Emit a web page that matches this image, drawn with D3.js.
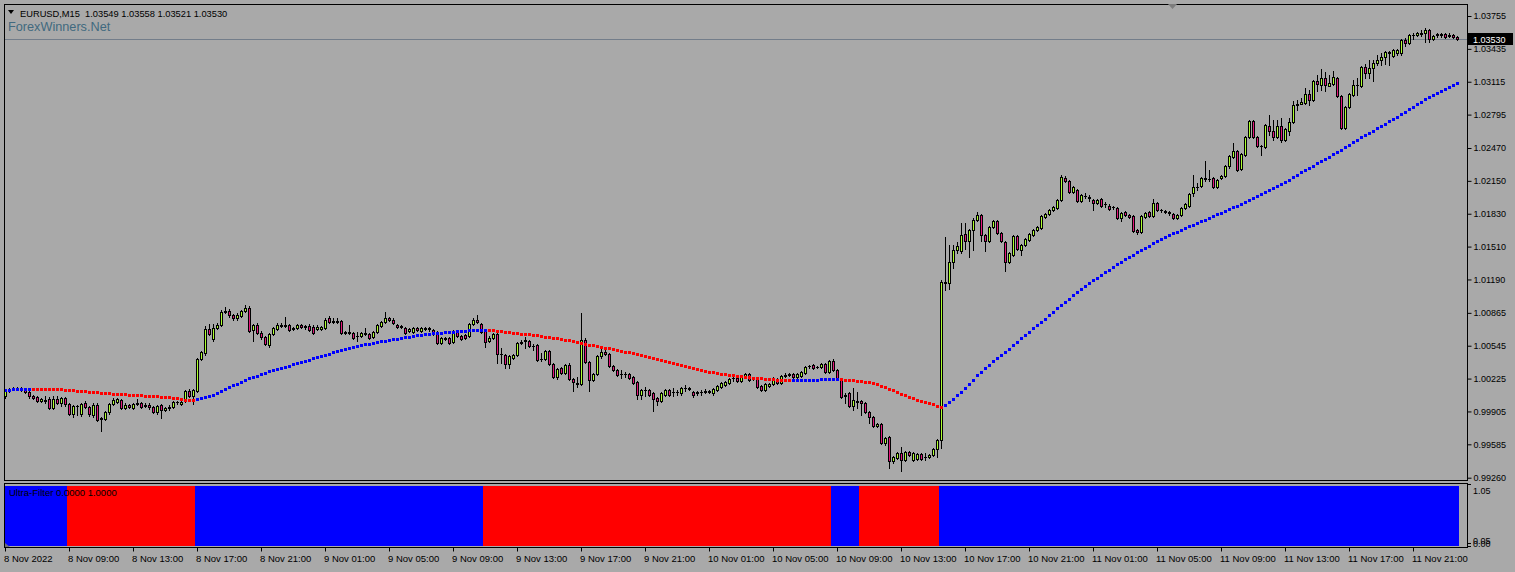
<!DOCTYPE html>
<html><head><meta charset="utf-8">
<script src="https://cdn.jsdelivr.net/npm/d3@7"></script>
<style>
html,body{margin:0;padding:0;background:#a9a9a9;}
svg{display:block;}
</style></head><body>
<svg id="chart" width="1515" height="572"></svg>
<script>
const symbolTitle = "EURUSD,M15";
const lastOHLC = [1.03549, 1.03558, 1.03521, 1.03530];
const watermark = "ForexWinners.Net";
const indicatorName = "Ultra-Filter";
const indicatorValues = [0.0, 1.0];

const open = [
1.0006,1.0010,1.0012,1.0013,1.0013,1.0012,1.0009,1.0006,1.0005,1.0001,
1.0002,1.0003,0.9994,1.0003,0.9999,1.0004,0.9998,0.9988,0.9996,0.9988,
0.9999,0.9995,0.9987,0.9997,0.9983,0.9983,0.9990,0.9998,1.0000,1.0002,
0.9994,0.9997,0.9994,0.9998,0.9999,0.9996,0.9997,0.9995,0.9990,0.9997,
0.9992,0.9994,0.9995,1.0000,0.9998,1.0001,1.0010,1.0006,1.0010,1.0042,
1.0047,1.0071,1.0061,1.0072,1.0075,1.0087,1.0088,1.0084,1.0081,1.0083,
1.0088,1.0091,1.0070,1.0075,1.0067,1.0063,1.0055,1.0066,1.0071,1.0075,
1.0074,1.0075,1.0071,1.0072,1.0075,1.0073,1.0074,1.0073,1.0071,1.0071,
1.0072,1.0081,1.0078,1.0079,1.0079,1.0067,1.0068,1.0067,1.0064,1.0064,
1.0067,1.0066,1.0063,1.0068,1.0074,1.0078,1.0081,1.0080,1.0075,1.0073,
1.0072,1.0069,1.0068,1.0072,1.0069,1.0072,1.0071,1.0070,1.0068,1.0057,
1.0062,1.0062,1.0058,1.0068,1.0064,1.0065,1.0064,1.0076,1.0080,1.0076,
1.0070,1.0059,1.0062,1.0066,1.0046,1.0045,1.0037,1.0043,1.0045,1.0057,
1.0059,1.0059,1.0054,1.0055,1.0042,1.0042,1.0049,1.0037,1.0024,1.0033,
1.0028,1.0036,1.0022,1.0018,1.0017,1.0060,1.0039,1.0021,1.0027,1.0044,
1.0048,1.0046,1.0035,1.0031,1.0027,1.0027,1.0027,1.0024,1.0019,1.0007,
1.0011,1.0011,1.0008,1.0004,1.0001,1.0007,1.0011,1.0009,1.0009,1.0008,
1.0013,1.0013,1.0009,1.0008,1.0009,1.0009,1.0010,1.0008,1.0011,1.0014,
1.0016,1.0018,1.0023,1.0023,1.0020,1.0024,1.0027,1.0022,1.0023,1.0015,
1.0011,1.0015,1.0017,1.0022,1.0018,1.0025,1.0026,1.0027,1.0024,1.0025,
1.0028,1.0035,1.0036,1.0034,1.0034,1.0037,1.0029,1.0040,1.0031,1.0022,
1.0006,1.0008,0.9996,1.0001,1.0001,0.9999,0.9990,0.9985,0.9976,0.9978,
0.9960,0.9966,0.9942,0.9945,0.9950,0.9943,0.9951,0.9943,0.9944,0.9949,
0.9946,0.9946,0.9948,0.9954,0.9963,1.0117,1.0116,1.0136,1.0148,1.0147,
1.0163,1.0156,1.0167,1.0177,1.0182,1.0162,1.0156,1.0170,1.0176,1.0164,
1.0155,1.0136,1.0143,1.0161,1.0148,1.0153,1.0157,1.0162,1.0167,1.0169,
1.0180,1.0183,1.0187,1.0189,1.0196,1.0218,1.0215,1.0204,1.0206,1.0195,
1.0200,1.0199,1.0196,1.0193,1.0197,1.0192,1.0191,1.0190,1.0189,1.0179,
1.0185,1.0182,1.0181,1.0167,1.0165,1.0180,1.0185,1.0181,1.0193,1.0187,
1.0186,1.0185,1.0183,1.0179,1.0182,1.0189,1.0191,1.0203,1.0209,1.0210,
1.0218,1.0217,1.0218,1.0209,1.0218,1.0220,1.0229,1.0238,1.0244,1.0227,
1.0240,1.0258,1.0273,1.0258,1.0249,1.0248,1.0268,1.0264,1.0258,1.0268,
1.0255,1.0264,1.0272,1.0289,1.0290,1.0291,1.0300,1.0294,1.0312,1.0308,
1.0315,1.0307,1.0309,1.0315,1.0298,1.0266,1.0287,1.0299,1.0308,1.0307,
1.0326,1.0320,1.0325,1.0330,1.0333,1.0336,1.0340,1.0337,1.0339,1.0339,
1.0352,1.0349,1.0357,1.0357,1.0359,1.0359,1.0362,1.0353,1.0357,1.0358,
1.0358,1.0356,1.0357,1.03549];

const high = [
1.0012,1.0013,1.0014,1.0014,1.0014,1.0013,1.0010,1.0007,1.0006,1.0004,
1.0006,1.0005,1.0006,1.0006,1.0005,1.0005,0.9999,0.9997,0.9997,0.9999,
1.0001,0.9996,0.9999,0.9999,0.9985,0.9991,0.9999,1.0004,1.0004,1.0003,
0.9999,0.9998,0.9999,1.0003,1.0000,0.9999,0.9999,0.9996,0.9997,0.9998,
0.9995,0.9997,1.0001,1.0001,1.0001,1.0011,1.0012,1.0012,1.0043,1.0049,
1.0074,1.0076,1.0076,1.0077,1.0089,1.0092,1.0090,1.0085,1.0086,1.0089,
1.0094,1.0093,1.0076,1.0077,1.0069,1.0064,1.0067,1.0073,1.0077,1.0077,
1.0082,1.0076,1.0073,1.0076,1.0076,1.0075,1.0076,1.0075,1.0075,1.0074,
1.0081,1.0083,1.0081,1.0081,1.0080,1.0069,1.0075,1.0068,1.0068,1.0068,
1.0072,1.0067,1.0069,1.0076,1.0079,1.0087,1.0082,1.0081,1.0076,1.0075,
1.0073,1.0072,1.0073,1.0073,1.0073,1.0073,1.0073,1.0071,1.0069,1.0063,
1.0063,1.0063,1.0070,1.0070,1.0065,1.0066,1.0077,1.0081,1.0084,1.0077,
1.0071,1.0064,1.0067,1.0067,1.0052,1.0046,1.0045,1.0046,1.0058,1.0060,
1.0063,1.0060,1.0056,1.0056,1.0047,1.0050,1.0050,1.0038,1.0033,1.0034,
1.0037,1.0038,1.0023,1.0024,1.0086,1.0062,1.0040,1.0028,1.0045,1.0052,
1.0050,1.0047,1.0036,1.0032,1.0031,1.0029,1.0028,1.0025,1.0020,1.0012,
1.0014,1.0012,1.0009,1.0005,1.0009,1.0012,1.0012,1.0013,1.0011,1.0014,
1.0016,1.0014,1.0010,1.0010,1.0011,1.0012,1.0011,1.0013,1.0016,1.0019,
1.0020,1.0023,1.0026,1.0024,1.0026,1.0028,1.0028,1.0024,1.0024,1.0016,
1.0018,1.0018,1.0024,1.0023,1.0026,1.0028,1.0028,1.0028,1.0028,1.0030,
1.0035,1.0036,1.0037,1.0035,1.0038,1.0038,1.0041,1.0042,1.0032,1.0023,
1.0008,1.0009,1.0013,1.0009,1.0002,1.0000,0.9991,0.9986,0.9979,0.9979,
0.9966,0.9967,0.9947,0.9951,0.9956,0.9952,0.9952,0.9951,0.9950,0.9950,
0.9950,0.9949,0.9955,0.9964,1.0118,1.0160,1.0153,1.0153,1.0155,1.0174,
1.0174,1.0168,1.0179,1.0185,1.0183,1.0163,1.0171,1.0177,1.0177,1.0165,
1.0156,1.0146,1.0162,1.0162,1.0154,1.0159,1.0164,1.0168,1.0171,1.0182,
1.0184,1.0188,1.0191,1.0197,1.0221,1.0220,1.0216,1.0210,1.0207,1.0202,
1.0203,1.0201,1.0197,1.0197,1.0198,1.0194,1.0192,1.0191,1.0190,1.0185,
1.0186,1.0183,1.0182,1.0168,1.0182,1.0185,1.0186,1.0197,1.0194,1.0188,
1.0187,1.0186,1.0184,1.0183,1.0190,1.0193,1.0203,1.0221,1.0213,1.0219,
1.0234,1.0226,1.0219,1.0217,1.0221,1.0230,1.0240,1.0252,1.0245,1.0242,
1.0259,1.0274,1.0274,1.0259,1.0250,1.0270,1.0279,1.0274,1.0274,1.0276,
1.0266,1.0276,1.0293,1.0294,1.0296,1.0305,1.0303,1.0313,1.0318,1.0324,
1.0321,1.0318,1.0322,1.0316,1.0299,1.0288,1.0301,1.0313,1.0315,1.0327,
1.0329,1.0333,1.0333,1.0338,1.0339,1.0341,1.0341,1.0343,1.0343,1.0353,
1.0354,1.0358,1.0359,1.0360,1.0362,1.0364,1.0363,1.0357,1.0359,1.0359,
1.0359,1.0359,1.0358,1.03558];

const low = [
1.0004,1.0009,1.0011,1.0012,1.0010,1.0008,1.0004,1.0003,1.0000,1.0000,
0.9999,0.9993,0.9993,0.9998,0.9996,0.9996,0.9987,0.9985,0.9987,0.9986,
0.9994,0.9986,0.9985,0.9981,0.9971,0.9982,0.9988,0.9997,0.9999,0.9993,
0.9993,0.9994,0.9993,0.9997,0.9994,0.9995,0.9993,0.9989,0.9988,0.9984,
0.9991,0.9992,0.9994,0.9998,0.9997,1.0000,1.0005,0.9998,1.0009,1.0041,
1.0045,1.0065,1.0059,1.0071,1.0074,1.0086,1.0082,1.0080,1.0080,1.0082,
1.0087,1.0068,1.0059,1.0066,1.0061,1.0055,1.0053,1.0065,1.0070,1.0073,
1.0073,1.0069,1.0070,1.0071,1.0072,1.0071,1.0069,1.0066,1.0070,1.0070,
1.0071,1.0077,1.0077,1.0077,1.0066,1.0066,1.0066,1.0061,1.0059,1.0063,
1.0065,1.0061,1.0062,1.0067,1.0073,1.0077,1.0079,1.0076,1.0072,1.0072,
1.0066,1.0068,1.0067,1.0069,1.0068,1.0070,1.0069,1.0065,1.0056,1.0056,
1.0060,1.0056,1.0057,1.0063,1.0060,1.0061,1.0063,1.0075,1.0077,1.0067,
1.0053,1.0058,1.0061,1.0038,1.0038,1.0033,1.0033,1.0042,1.0044,1.0056,
1.0052,1.0053,1.0050,1.0040,1.0040,1.0041,1.0036,1.0023,1.0022,1.0027,
1.0027,1.0021,1.0010,1.0014,1.0016,1.0038,1.0010,1.0020,1.0026,1.0043,
1.0045,1.0034,1.0030,1.0025,1.0023,1.0024,1.0022,1.0017,1.0003,1.0003,
1.0006,1.0006,0.9991,0.9997,1.0000,1.0006,1.0006,1.0006,1.0007,1.0007,
1.0010,1.0011,1.0005,1.0007,1.0007,1.0008,1.0008,1.0007,1.0010,1.0013,
1.0015,1.0017,1.0020,1.0019,1.0019,1.0023,1.0020,1.0021,1.0013,1.0010,
1.0010,1.0014,1.0016,1.0017,1.0017,1.0024,1.0025,1.0023,1.0023,1.0024,
1.0027,1.0033,1.0032,1.0033,1.0033,1.0028,1.0028,1.0030,1.0021,1.0004,
0.9999,0.9995,0.9992,0.9994,0.9987,0.9989,0.9979,0.9975,0.9975,0.9959,
0.9958,0.9935,0.9940,0.9944,0.9933,0.9942,0.9947,0.9942,0.9943,0.9943,
0.9943,0.9945,0.9947,0.9946,0.9955,1.0109,1.0110,1.0130,1.0145,1.0145,
1.0149,1.0141,1.0148,1.0176,1.0156,1.0147,1.0155,1.0169,1.0163,1.0155,
1.0127,1.0135,1.0142,1.0148,1.0143,1.0152,1.0156,1.0161,1.0166,1.0168,
1.0179,1.0182,1.0186,1.0188,1.0195,1.0214,1.0203,1.0203,1.0194,1.0194,
1.0198,1.0195,1.0187,1.0192,1.0190,1.0190,1.0187,1.0188,1.0178,1.0176,
1.0181,1.0179,1.0165,1.0163,1.0164,1.0179,1.0180,1.0180,1.0186,1.0185,
1.0184,1.0182,1.0178,1.0178,1.0181,1.0188,1.0190,1.0200,1.0206,1.0209,
1.0215,1.0215,1.0208,1.0208,1.0217,1.0219,1.0228,1.0237,1.0225,1.0226,
1.0239,1.0257,1.0257,1.0248,1.0240,1.0247,1.0260,1.0255,1.0257,1.0253,
1.0254,1.0260,1.0271,1.0284,1.0290,1.0290,1.0289,1.0293,1.0302,1.0303,
1.0302,1.0307,1.0308,1.0297,1.0265,1.0265,1.0286,1.0298,1.0299,1.0306,
1.0315,1.0315,1.0312,1.0328,1.0328,1.0329,1.0328,1.0336,1.0338,1.0338,
1.0346,1.0348,1.0353,1.0356,1.0356,1.0350,1.0350,1.0352,1.0355,1.0355,
1.0354,1.0355,1.0354,1.03521];

const close = [
1.0010,1.0012,1.0013,1.0013,1.0012,1.0009,1.0006,1.0004,1.0001,1.0003,
1.0001,0.9994,1.0003,0.9999,1.0004,0.9998,0.9988,0.9996,0.9996,0.9998,
0.9995,0.9988,0.9997,0.9982,0.9984,0.9990,0.9998,1.0002,1.0003,0.9994,
0.9997,0.9995,0.9998,0.9999,0.9995,0.9997,0.9995,0.9990,0.9996,0.9992,
0.9994,0.9995,1.0000,1.0000,1.0000,1.0010,1.0006,1.0011,1.0042,1.0048,
1.0071,1.0066,1.0072,1.0075,1.0087,1.0088,1.0084,1.0081,1.0084,1.0088,
1.0091,1.0069,1.0075,1.0067,1.0063,1.0056,1.0066,1.0072,1.0075,1.0074,
1.0075,1.0070,1.0072,1.0075,1.0073,1.0074,1.0070,1.0067,1.0073,1.0073,
1.0080,1.0078,1.0079,1.0078,1.0067,1.0068,1.0067,1.0062,1.0064,1.0067,
1.0066,1.0062,1.0068,1.0075,1.0078,1.0081,1.0080,1.0077,1.0073,1.0074,
1.0067,1.0071,1.0072,1.0070,1.0072,1.0071,1.0072,1.0066,1.0057,1.0062,
1.0061,1.0057,1.0069,1.0064,1.0061,1.0062,1.0076,1.0080,1.0078,1.0068,
1.0058,1.0062,1.0066,1.0046,1.0046,1.0037,1.0044,1.0045,1.0057,1.0058,
1.0060,1.0054,1.0054,1.0041,1.0042,1.0049,1.0037,1.0024,1.0032,1.0028,
1.0036,1.0022,1.0019,1.0017,1.0060,1.0039,1.0021,1.0027,1.0044,1.0048,
1.0046,1.0035,1.0031,1.0026,1.0027,1.0027,1.0023,1.0018,1.0007,1.0011,
1.0011,1.0007,1.0003,1.0001,1.0008,1.0011,1.0007,1.0009,1.0009,1.0013,
1.0013,1.0012,1.0007,1.0009,1.0009,1.0010,1.0009,1.0012,1.0015,1.0018,
1.0019,1.0022,1.0023,1.0020,1.0025,1.0027,1.0021,1.0023,1.0014,1.0011,
1.0017,1.0017,1.0023,1.0018,1.0025,1.0026,1.0027,1.0024,1.0027,1.0029,
1.0034,1.0035,1.0033,1.0034,1.0037,1.0029,1.0040,1.0031,1.0022,1.0005,
1.0007,0.9996,1.0002,1.0000,0.9999,0.9990,0.9985,0.9976,0.9978,0.9960,
0.9965,0.9942,0.9946,0.9950,0.9943,0.9951,0.9948,0.9950,0.9949,0.9944,
0.9946,0.9948,0.9954,0.9963,1.0117,1.0116,1.0136,1.0148,1.0152,1.0162,
1.0156,1.0167,1.0177,1.0182,1.0162,1.0156,1.0170,1.0176,1.0164,1.0156,
1.0136,1.0145,1.0161,1.0149,1.0153,1.0158,1.0163,1.0167,1.0170,1.0181,
1.0183,1.0187,1.0190,1.0196,1.0219,1.0215,1.0204,1.0209,1.0195,1.0201,
1.0200,1.0198,1.0193,1.0196,1.0191,1.0192,1.0188,1.0190,1.0179,1.0184,
1.0182,1.0180,1.0166,1.0165,1.0181,1.0184,1.0181,1.0193,1.0187,1.0187,
1.0185,1.0184,1.0179,1.0182,1.0189,1.0192,1.0202,1.0209,1.0209,1.0218,
1.0217,1.0217,1.0209,1.0216,1.0220,1.0229,1.0239,1.0244,1.0226,1.0241,
1.0258,1.0273,1.0258,1.0249,1.0249,1.0269,1.0264,1.0258,1.0268,1.0255,
1.0265,1.0272,1.0289,1.0290,1.0292,1.0300,1.0294,1.0312,1.0309,1.0315,
1.0308,1.0310,1.0316,1.0298,1.0266,1.0287,1.0300,1.0308,1.0308,1.0326,
1.0320,1.0325,1.0330,1.0333,1.0336,1.0340,1.0339,1.0342,1.0342,1.0352,
1.0349,1.0357,1.0357,1.0359,1.0358,1.0362,1.0353,1.0356,1.0358,1.0357,
1.0355,1.0357,1.0355,1.03530];

const maValues = [
1.00113,1.00116,1.00119,1.00123,1.00123,1.00126,1.00126,1.00123,1.00123,1.00123,
1.00123,1.00119,1.00119,1.00119,1.00119,1.00116,1.00113,1.00110,1.00106,1.00103,
1.00100,1.00097,1.00093,1.00090,1.00087,1.00084,1.00080,1.00077,1.00074,1.00071,
1.00071,1.00067,1.00064,1.00064,1.00061,1.00058,1.00058,1.00054,1.00051,1.00048,
1.00045,1.00041,1.00038,1.00032,1.00025,1.00019,1.00015,1.00012,1.00022,1.00032,
1.00041,1.00054,1.00067,1.00084,1.00103,1.00123,1.00139,1.00158,1.00174,1.00194,
1.00210,1.00226,1.00239,1.00252,1.00269,1.00282,1.00295,1.00304,1.00317,1.00327,
1.00340,1.00350,1.00363,1.00373,1.00386,1.00399,1.00409,1.00422,1.00435,1.00444,
1.00457,1.00467,1.00480,1.00490,1.00500,1.00513,1.00522,1.00532,1.00542,1.00548,
1.00558,1.00565,1.00574,1.00581,1.00587,1.00594,1.00600,1.00607,1.00613,1.00620,
1.00626,1.00633,1.00639,1.00646,1.00652,1.00655,1.00659,1.00665,1.00668,1.00671,
1.00675,1.00678,1.00681,1.00685,1.00688,1.00691,1.00694,1.00698,1.00698,1.00698,
1.00698,1.00698,1.00695,1.00692,1.00688,1.00682,1.00679,1.00672,1.00666,1.00662,
1.00659,1.00656,1.00653,1.00646,1.00640,1.00633,1.00627,1.00624,1.00617,1.00611,
1.00604,1.00598,1.00591,1.00581,1.00572,1.00562,1.00555,1.00549,1.00539,1.00533,
1.00526,1.00520,1.00513,1.00503,1.00497,1.00487,1.00481,1.00471,1.00461,1.00451,
1.00442,1.00432,1.00422,1.00412,1.00403,1.00393,1.00383,1.00373,1.00364,1.00354,
1.00344,1.00334,1.00325,1.00315,1.00305,1.00299,1.00292,1.00286,1.00279,1.00273,
1.00266,1.00260,1.00256,1.00250,1.00247,1.00240,1.00237,1.00234,1.00231,1.00227,
1.00224,1.00221,1.00217,1.00214,1.00211,1.00208,1.00208,1.00208,1.00208,1.00208,
1.00211,1.00211,1.00214,1.00214,1.00217,1.00217,1.00221,1.00221,1.00221,1.00217,
1.00214,1.00211,1.00208,1.00204,1.00201,1.00195,1.00188,1.00178,1.00169,1.00156,
1.00142,1.00126,1.00110,1.00094,1.00077,1.00061,1.00045,1.00032,1.00019,1.00009,
0.99999,0.99986,0.99973,0.99961,0.99951,0.99967,0.99993,1.00029,1.00065,1.00097,
1.00133,1.00169,1.00211,1.00256,1.00289,1.00328,1.00357,1.00396,1.00425,1.00455,
1.00484,1.00513,1.00552,1.00581,1.00620,1.00650,1.00679,1.00718,1.00747,1.00776,
1.00805,1.00844,1.00873,1.00912,1.00942,1.00971,1.01000,1.01039,1.01068,1.01097,
1.01126,1.01156,1.01185,1.01204,1.01234,1.01263,1.01282,1.01311,1.01341,1.01360,
1.01389,1.01409,1.01428,1.01458,1.01477,1.01496,1.01516,1.01545,1.01565,1.01584,
1.01604,1.01623,1.01643,1.01652,1.01672,1.01691,1.01711,1.01720,1.01740,1.01759,
1.01769,1.01789,1.01808,1.01828,1.01837,1.01857,1.01876,1.01896,1.01905,1.01925,
1.01944,1.01964,1.01983,1.02003,1.02022,1.02042,1.02061,1.02081,1.02100,1.02120,
1.02139,1.02159,1.02188,1.02207,1.02236,1.02256,1.02275,1.02295,1.02324,1.02343,
1.02363,1.02382,1.02412,1.02431,1.02451,1.02480,1.02499,1.02528,1.02548,1.02577,
1.02597,1.02616,1.02636,1.02665,1.02684,1.02704,1.02733,1.02752,1.02772,1.02801,
1.02820,1.02850,1.02869,1.02898,1.02918,1.02947,1.02967,1.02986,1.03006,1.03025,
1.03045,1.03064,1.03083,1.03103];

// MA trend runs: start index of each run and its state (1 = up/blue, 0 = down/red)
const maTrendStarts = [0, 7, 48, 121, 197, 209, 235];
const maTrendStates = [1, 0, 1, 0, 1, 0, 1];
// Ultra-Filter runs: start index and state (1 = blue, 0 = red)
const filterStarts = [0, 16, 48, 120, 207, 214, 234];
const filterStates = [1, 0, 1, 0, 1, 0, 1];

const priceTicks = [1.03755,1.03435,1.03115,1.02795,1.02470,1.02150,1.01830,1.01510,1.01190,1.00865,1.00545,1.00225,0.99905,0.99585,0.99260];
const indTicks = [1.05, 0.05, 0.00];
const timeLabels = ["8 Nov 2022","8 Nov 09:00","8 Nov 13:00","8 Nov 17:00","8 Nov 21:00","9 Nov 01:00","9 Nov 05:00","9 Nov 09:00","9 Nov 13:00","9 Nov 17:00","9 Nov 21:00","10 Nov 01:00","10 Nov 05:00","10 Nov 09:00","10 Nov 13:00","10 Nov 17:00","10 Nov 21:00","11 Nov 01:00","11 Nov 05:00","11 Nov 09:00","11 Nov 13:00","11 Nov 17:00","11 Nov 21:00"];
const barsPerLabel = 16;

// ---------- drawing ----------
const W = 1515, H = 572;
const FONT = "'Liberation Sans', Arial, sans-serif";
const BG = "#a9a9a9";
const UP = "#adff2f", DOWN = "#e3177b";
const N = close.length;

function runsToSeries(starts, states, n) {
  const out = new Array(n);
  for (let r = 0; r < starts.length; r++) {
    const end = r + 1 < starts.length ? starts[r + 1] : n;
    for (let i = starts[r]; i < end; i++) out[i] = states[r];
  }
  return out;
}
const maTrend = runsToSeries(maTrendStarts, maTrendStates, N);
const filter = runsToSeries(filterStarts, filterStates, N);

const svg = d3.select("#chart");
const plotL = 4, plotR = 1467, plotT = 4, plotB = 480, indT = 483, indB = 547;

const x = d3.scaleLinear().domain([0, N - 1]).range([5, 5 + 4 * (N - 1)]);
const y = d3.scaleLinear().domain([0.99260, 1.03755]).range([477.7, 16]);
const yInd = d3.scaleLinear().domain([0, 1.05]).range([546, 483.5]);

svg.append("rect").attr("width", W).attr("height", H).attr("fill", BG);

const defs = svg.append("defs");
defs.append("clipPath").attr("id", "clipMain").append("rect")
  .attr("x", plotL + 1).attr("y", plotT + 1).attr("width", plotR - plotL - 1).attr("height", plotB - plotT - 1);
defs.append("clipPath").attr("id", "clipInd").append("rect")
  .attr("x", plotL + 1).attr("y", indT + 1).attr("width", plotR - plotL - 1).attr("height", indB - indT - 1);

// bid line
const lastY = Math.round(y(lastOHLC[3])) + 0.5;
svg.append("line").attr("x1", plotL).attr("x2", plotR).attr("y1", lastY).attr("y2", lastY)
  .attr("stroke", "#737d8a").attr("stroke-width", 1);

// candles
const gC = svg.append("g").attr("clip-path", "url(#clipMain)");
for (let i = 0; i < N; i++) {
  const cx = x(i) + 0.5;
  const o = open[i], c = close[i];
  const hi = Math.max(high[i], o, c), lo = Math.min(low[i], o, c);
  const yh = Math.round(y(hi)), yl = Math.round(y(lo));
  const yt = Math.round(y(Math.max(o, c))), yb = Math.round(y(Math.min(o, c)));
  gC.append("line").attr("x1", cx).attr("x2", cx).attr("y1", yh).attr("y2", yl + 1)
    .attr("stroke", "#000").attr("stroke-width", 1);
  if (yb - yt < 1) {
    gC.append("line").attr("x1", cx - 1.5).attr("x2", cx + 1.5).attr("y1", yt + 0.5).attr("y2", yt + 0.5)
      .attr("stroke", "#000").attr("stroke-width", 1);
  } else {
    gC.append("rect").attr("x", cx - 1).attr("y", yt + 0.5).attr("width", 2).attr("height", yb - yt)
      .attr("fill", c >= o ? UP : DOWN).attr("stroke", "#000").attr("stroke-width", 1);
  }
}

// MA dots
const gM = svg.append("g").attr("clip-path", "url(#clipMain)");
gM.selectAll("rect").data(maValues).join("rect")
  .attr("x", (d, i) => x(i) - 1)
  .attr("y", d => Math.round(y(d)) - 1)
  .attr("width", 3).attr("height", 3)
  .attr("fill", (d, i) => maTrend[i] ? "#0000ff" : "#ff0000");

// indicator bars
const gI = svg.append("g").attr("clip-path", "url(#clipInd)").attr("shape-rendering", "crispEdges");
gI.selectAll("rect").data(filter).join("rect")
  .attr("x", (d, i) => x(i) - 2)
  .attr("y", yInd(1))
  .attr("width", 4)
  .attr("height", yInd(0) - yInd(1))
  .attr("fill", d => d ? "#0000ff" : "#ff0000");

// frames
svg.append("rect").attr("x", plotL + 0.5).attr("y", plotT + 0.5).attr("width", plotR - plotL).attr("height", plotB - plotT)
  .attr("fill", "none").attr("stroke", "#000");
svg.append("rect").attr("x", plotL + 0.5).attr("y", indT + 0.5).attr("width", plotR - plotL).attr("height", indB - indT)
  .attr("fill", "none").attr("stroke", "#000");

// price axis
const gy = svg.append("g").attr("transform", `translate(${plotR + 0.5},0)`)
  .call(d3.axisRight(y).tickValues(priceTicks).tickSize(4).tickPadding(2).tickFormat(d3.format(".5f")));
gy.select(".domain").remove();
gy.attr("font-family", FONT).attr("font-size", 9);
gy.selectAll("line").attr("stroke", "#000");
gy.selectAll("text").attr("fill", "#000");

// current price label
svg.append("rect").attr("x", plotR + 1).attr("y", lastY - 6.5).attr("width", 45).attr("height", 12).attr("fill", "#000");
svg.append("text").attr("x", plotR + 6).attr("y", lastY + 0.5).attr("dy", "0.35em")
  .attr("font-family", FONT).attr("font-size", 9).attr("fill", "#fff").text(d3.format(".5f")(lastOHLC[3]));

// indicator axis
const indLabelShift = [7, -2, -2];
indTicks.forEach((v, k) => {
  const ty = yInd(v);
  svg.append("line").attr("x1", plotR).attr("x2", plotR + 4).attr("y1", Math.round(ty) + 0.5).attr("y2", Math.round(ty) + 0.5).attr("stroke", "#000");
  svg.append("text").attr("x", plotR + 6).attr("y", ty + indLabelShift[k]).attr("dy", "0.35em")
    .attr("font-family", FONT).attr("font-size", 9).attr("fill", "#000").text(d3.format(".2f")(v));
});

// time axis
const timeIdx = timeLabels.map((t, j) => j * barsPerLabel);
const gx = svg.append("g").attr("transform", `translate(0,${indB + 0.5})`)
  .call(d3.axisBottom(x).tickValues(timeIdx).tickSize(4).tickPadding(4).tickFormat((d, j) => timeLabels[j]));
gx.select(".domain").remove();
gx.attr("font-family", FONT).attr("font-size", 9.5);
gx.selectAll("line").attr("stroke", "#000");
gx.selectAll("text").attr("fill", "#000").attr("text-anchor", "start").attr("x", -1.5);

// title
svg.append("path").attr("d", "M8,10 L14,10 L11,14 Z").attr("fill", "#000");
svg.append("text").attr("x", 20).attr("y", 16.5).attr("font-family", FONT).attr("font-size", 9.3).attr("fill", "#000")
  .attr("xml:space", "preserve").style("white-space", "pre")
  .text(symbolTitle + "  " + lastOHLC.map(d3.format(".5f")).join(" "));
svg.append("text").attr("x", 8).attr("y", 31).attr("font-family", FONT).attr("font-size", 12.7).attr("fill", "#41697f")
  .text(watermark);

// indicator caption
svg.append("text").attr("x", 9).attr("y", 492.5).attr("dy", "0.35em").attr("font-family", FONT).attr("font-size", 9.5).attr("fill", "#000")
  .text(indicatorName + " " + indicatorValues.map(d3.format(".4f")).join(" "));

// small markers
svg.append("path").attr("d", "M1168,4 L1177,4 L1172.5,9 Z").attr("fill", "#7d7d7d");
svg.append("path").attr("d", "M5,543 L5,547 L10,547 Z").attr("fill", "#6a6a78");
</script>
</body></html>
